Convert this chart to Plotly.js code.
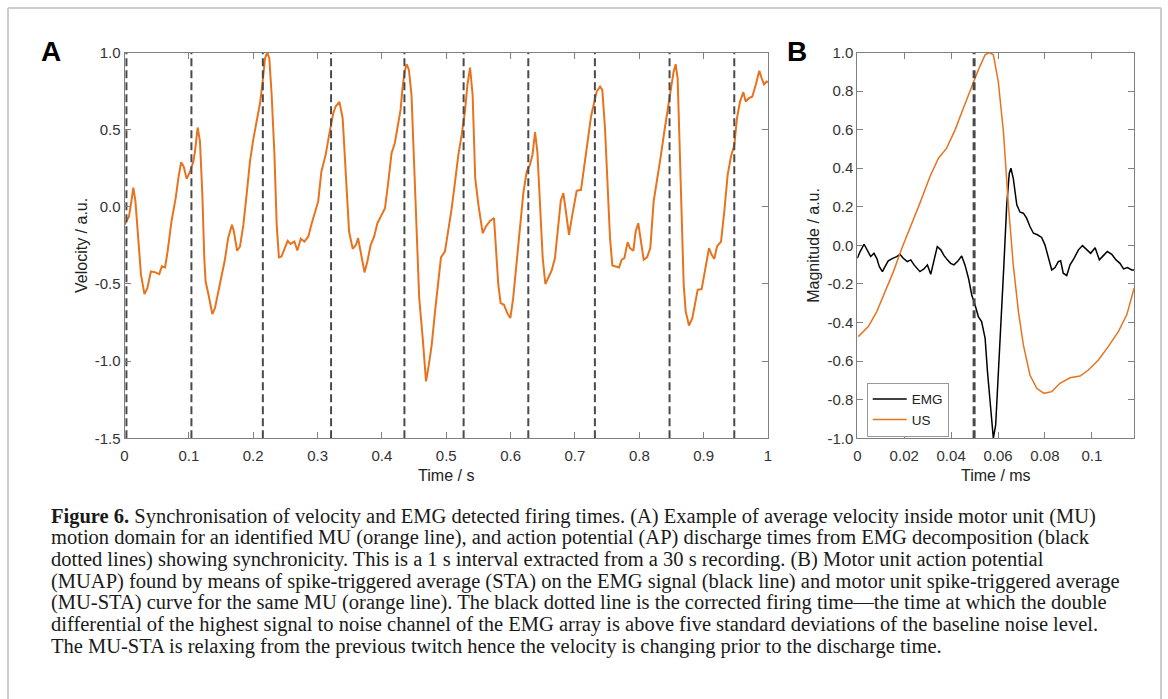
<!DOCTYPE html>
<html>
<head>
<meta charset="utf-8">
<script src="https://cdn.plot.ly/plotly-3.0.1.min.js"></script>
<style>html,body{margin:0;padding:0;background:#fff;}#chart{width:1168px;height:699px;}</style>
</head>
<body>
<div id="chart"></div>
<script>
// ---------- Panel A: velocity ----------
var timeA = [0.000,0.004,0.007,0.0105,0.0137,0.017,0.0215,0.0256,0.031,0.0355,0.041,0.047,0.054,0.058,0.063,0.067,0.073,0.0795,0.0837,0.088,0.092,0.0966,0.102,0.107,0.1095,0.1137,0.1173,0.121,0.124,0.126,0.130,0.1365,0.1406,0.146,0.151,0.156,0.161,0.167,0.170,0.175,0.1795,0.1847,0.190,0.195,0.200,0.2054,0.2106,0.2147,0.2184,0.222,0.225,0.2287,0.233,0.2365,0.240,0.244,0.249,0.2536,0.258,0.264,0.2686,0.274,0.2795,0.2857,0.291,0.296,0.301,0.306,0.3126,0.318,0.3245,0.328,0.334,0.339,0.344,0.349,0.3546,0.3598,0.363,0.367,0.373,0.3774,0.3826,0.388,0.393,0.3996,0.4048,0.410,0.415,0.420,0.4256,0.429,0.432,0.4354,0.4385,0.442,0.446,0.450,0.454,0.458,0.4634,0.4686,0.473,0.4774,0.4826,0.488,0.4918,0.498,0.5033,0.5085,0.5137,0.5188,0.524,0.529,0.5329,0.537,0.541,0.545,0.550,0.5566,0.5617,0.568,0.5742,0.578,0.5809,0.5845,0.5897,0.5949,0.5996,0.604,0.6094,0.6146,0.6198,0.625,0.630,0.634,0.638,0.6416,0.6457,0.6499,0.654,0.659,0.664,0.669,0.674,0.678,0.682,0.6856,0.6908,0.6959,0.7027,0.7094,0.7146,0.7198,0.725,0.7302,0.7338,0.739,0.7425,0.7467,0.7508,0.7545,0.7581,0.7633,0.7685,0.7726,0.7768,0.7819,0.7856,0.7908,0.7943,0.7984,0.8026,0.8068,0.8119,0.8171,0.8223,0.8285,0.8337,0.8389,0.8441,0.8493,0.8534,0.8565,0.8596,0.8627,0.8659,0.869,0.8721,0.8772,0.8824,0.8866,0.8907,0.8969,0.9021,0.9083,0.9125,0.9166,0.9207,0.927,0.9321,0.9373,0.9425,0.9477,0.9518,0.9565,0.9617,0.9653,0.9705,0.9757,0.9809,0.9865,0.9902,0.9938,0.9979,1.0];
var velA = [-0.117,-0.09,-0.063,0.03,0.125,0.035,-0.246,-0.44,-0.566,-0.527,-0.419,-0.423,-0.436,-0.386,-0.393,-0.289,-0.095,0.056,0.186,0.289,0.261,0.181,0.229,0.294,0.358,0.514,0.423,0.078,-0.332,-0.484,-0.559,-0.695,-0.656,-0.548,-0.462,-0.343,-0.203,-0.117,-0.160,-0.285,-0.257,-0.117,0.089,0.294,0.434,0.553,0.671,0.812,0.963,1.0,0.963,0.725,0.337,-0.117,-0.328,-0.322,-0.268,-0.220,-0.240,-0.225,-0.283,-0.207,-0.225,-0.192,-0.106,-0.030,0.035,0.229,0.337,0.466,0.607,0.650,0.680,0.574,0.186,-0.160,-0.272,-0.246,-0.203,-0.289,-0.425,-0.354,-0.246,-0.192,-0.106,-0.052,-0.009,0.164,0.348,0.412,0.531,0.628,0.769,0.877,0.924,0.887,0.725,0.294,-0.246,-0.592,-0.851,-1.131,-1.023,-0.894,-0.678,-0.462,-0.328,-0.289,-0.160,-0.009,0.164,0.337,0.466,0.617,0.790,0.902,0.725,0.186,0.013,-0.171,-0.127,-0.091,-0.073,-0.289,-0.505,-0.624,-0.635,-0.689,-0.721,-0.592,-0.354,-0.095,0.089,0.229,0.272,0.337,0.484,0.358,-0.030,-0.332,-0.50,-0.46,-0.41,-0.33,-0.12,0.04,0.089,-0.009,-0.181,-0.052,0.104,0.110,0.272,0.423,0.585,0.682,0.747,0.779,0.758,0.509,0.099,-0.203,-0.380,-0.386,-0.393,-0.343,-0.332,-0.229,-0.268,-0.285,-0.160,-0.106,-0.225,-0.343,-0.328,-0.268,0.035,0.186,0.337,0.488,0.617,0.769,0.877,0.924,0.833,0.358,-0.160,-0.505,-0.678,-0.769,-0.721,-0.613,-0.538,-0.533,-0.419,-0.268,-0.311,-0.337,-0.257,-0.225,-0.030,0.207,0.326,0.402,0.574,0.682,0.743,0.682,0.704,0.715,0.790,0.881,0.833,0.794,0.812,0.807];
var firingA = [0.003,0.104,0.215,0.321,0.435,0.527,0.6275,0.731,0.847,0.9476];
var xTicksA = [0,0.1,0.2,0.3,0.4,0.5,0.6,0.7,0.8,0.9,1];
var xTickTextA = ['0','0.1','0.2','0.3','0.4','0.5','0.6','0.7','0.8','0.9','1'];
var yTicksA = [-1.5,-1.0,-0.5,0,0.5,1.0];
var yTickTextA = ['-1.5','-1.0','-0.5','0.0','0.5','1.0'];

// ---------- Panel B: STA ----------
var timeUS = [0.0004,0.0047,0.0083,0.0118,0.0154,0.019,0.0225,0.0267,0.031,0.0346,0.0381,0.0417,0.0452,0.0488,0.0516,0.0545,0.0563,0.058,0.0601,0.0623,0.0644,0.0665,0.0687,0.0708,0.0736,0.0765,0.0796,0.0829,0.0864,0.0907,0.095,0.0985,0.1028,0.107,0.1113,0.1149,0.118];
var usB = [-0.473,-0.421,-0.343,-0.239,-0.136,-0.015,0.089,0.219,0.357,0.452,0.504,0.599,0.711,0.824,0.910,0.988,1.0,0.988,0.850,0.590,0.210,-0.101,-0.343,-0.516,-0.672,-0.741,-0.767,-0.758,-0.715,-0.686,-0.677,-0.646,-0.594,-0.525,-0.447,-0.360,-0.222];
var timeEMG = [0,0.0012,0.0029,0.0043,0.0057,0.0071,0.0083,0.0094,0.0107,0.0118,0.0132,0.0151,0.0168,0.0182,0.0196,0.0213,0.0228,0.0242,0.0253,0.0267,0.0284,0.0299,0.0313,0.0324,0.0341,0.0356,0.037,0.0384,0.0398,0.0412,0.0427,0.0445,0.0459,0.0474,0.0488,0.0502,0.0516,0.053,0.0545,0.0555,0.0566,0.058,0.059,0.0601,0.0615,0.0625,0.0637,0.0648,0.0655,0.0665,0.068,0.0694,0.0708,0.0722,0.0736,0.0751,0.0768,0.0786,0.08,0.0815,0.0829,0.0843,0.0857,0.0867,0.0878,0.0893,0.0907,0.0924,0.0943,0.096,0.0978,0.0995,0.1014,0.1032,0.1049,0.1066,0.1085,0.1103,0.112,0.1135,0.1152,0.117,0.118];
var emgB = [-0.067,-0.032,0.006,-0.023,-0.058,-0.041,-0.067,-0.110,-0.136,-0.110,-0.080,-0.067,-0.058,-0.046,-0.067,-0.084,-0.075,-0.101,-0.115,-0.136,-0.122,-0.101,-0.150,-0.093,-0.006,-0.023,-0.053,-0.075,-0.093,-0.101,-0.084,-0.055,-0.101,-0.170,-0.257,-0.309,-0.369,-0.395,-0.482,-0.654,-0.827,-1.0,-0.931,-0.689,-0.378,-0.101,0.210,0.374,0.400,0.348,0.210,0.172,0.167,0.141,0.098,0.063,0.055,0.041,0.003,-0.067,-0.127,-0.115,-0.084,-0.080,-0.144,-0.156,-0.101,-0.067,-0.023,-0.001,-0.023,-0.041,-0.012,-0.075,-0.053,-0.032,-0.046,-0.075,-0.093,-0.122,-0.115,-0.127,-0.127];
var firingB = [0.0498];
var xTicksB = [0,0.02,0.04,0.06,0.08,0.1];
var xTickTextB = ['0','0.02','0.04','0.06','0.08','0.1'];
var yTicksB = [-1.0,-0.8,-0.6,-0.4,-0.2,0,0.2,0.4,0.6,0.8,1.0];
var yTickTextB = ['-1.0','-0.8','-0.6','-0.4','-0.2','0.0','0.2','0.4','0.6','0.8','1.0'];

var captionLines = [
 '<b>Figure 6.</b> Synchronisation of velocity and EMG detected firing times. (A) Example of average velocity inside motor unit (MU)',
 'motion domain for an identified MU (orange line), and action potential (AP) discharge times from EMG decomposition (black',
 'dotted lines) showing synchronicity. This is a 1 s interval extracted from a 30 s recording. (B) Motor unit action potential',
 '(MUAP) found by means of spike-triggered average (STA) on the EMG signal (black line) and motor unit spike-triggered average',
 '(MU-STA) curve for the same MU (orange line). The black dotted line is the corrected firing time\u2014the time at which the double',
 'differential of the highest signal to noise channel of the EMG array is above five standard deviations of the baseline noise level.',
 'The MU-STA is relaxing from the previous twitch hence the velocity is changing prior to the discharge time.'
];

// ---------- build ----------
var W = 1168, H = 699;
function px(x){return x/W;}
function py(y){return 1 - y/H;}
var ORANGE = '#E8731E';

function vlines(xs, y0, y1){
  var X=[],Y=[];
  xs.forEach(function(v){X.push(v,v,null);Y.push(y0,y1,null);});
  return {x:X,y:Y};
}
var dA = vlines(firingA, -1.5, 1.0);
var dB = vlines(firingB, -1.0, 1.0);

var traces = [
  {x:timeA, y:velA, xaxis:'x', yaxis:'y', mode:'lines', line:{color:ORANGE,width:2}, showlegend:false, hoverinfo:'skip'},
  {x:dA.x, y:dA.y, xaxis:'x', yaxis:'y', mode:'lines', line:{color:'#4a4a4a',width:2,dash:'8px,4px'}, showlegend:false, connectgaps:false},
  {x:timeEMG, y:emgB, xaxis:'x2', yaxis:'y2', mode:'lines', name:'EMG', line:{color:'#000000',width:1.5}},
  {x:timeUS, y:usB, xaxis:'x2', yaxis:'y2', mode:'lines', name:'US', line:{color:ORANGE,width:1.5}},
  {x:dB.x, y:dB.y, xaxis:'x2', yaxis:'y2', mode:'lines', line:{color:'#4a4a4a',width:3,dash:'8px,4px'}, showlegend:false}
];

var tickFont = {family:'Liberation Sans, Arial, sans-serif', size:15, color:'#333333'};
var titleFont = {family:'Liberation Sans, Arial, sans-serif', size:16, color:'#222222'};
function axisBase(){
  return {showline:true, linecolor:'#808080', linewidth:1, mirror:'ticks', ticks:'inside', ticklen:6,
          tickcolor:'#808080', tickwidth:1, showgrid:false, zeroline:false, tickfont:tickFont, fixedrange:true};
}
var xa = Object.assign(axisBase(), {domain:[px(124.5),px(768)], range:[0,1], anchor:'y', tickmode:'array',
   tickvals:xTicksA, ticktext:xTickTextA, ticklabelstandoff:4, title:{text:'Time / s', font:titleFont, standoff:6}});
var ya = Object.assign(axisBase(), {domain:[py(438.3),py(52.5)], range:[-1.5,1.0], anchor:'x', tickmode:'array',
   tickvals:yTicksA, ticktext:yTickTextA, title:{text:'Velocity / a.u.', font:titleFont, standoff:3}});
var xb = Object.assign(axisBase(), {domain:[px(857.3),px(1134.3)], range:[0,0.1181], anchor:'y2', tickmode:'array',
   tickvals:xTicksB, ticktext:xTickTextB, ticklabelstandoff:4, title:{text:'Time / ms', font:titleFont, standoff:6}});
var yb = Object.assign(axisBase(), {domain:[py(438.3),py(52.5)], range:[-1,1], anchor:'x2', tickmode:'array',
   tickvals:yTicksB, ticktext:yTickTextB, title:{text:'Magnitude / a.u.', font:titleFont, standoff:3}});

var annotations = [
  {text:'<b>A</b>', xref:'paper', yref:'paper', x:px(51), y:py(52), xanchor:'center', yanchor:'middle', showarrow:false,
   font:{family:'Liberation Sans, Arial, sans-serif', size:28, color:'#000'}},
  {text:'<b>B</b>', xref:'paper', yref:'paper', x:px(797), y:py(52), xanchor:'center', yanchor:'middle', showarrow:false,
   font:{family:'Liberation Sans, Arial, sans-serif', size:28, color:'#000'}}
];
captionLines.forEach(function(t,i){
  annotations.push({text:t, xref:'paper', yref:'paper', x:px(49), y:py(516 + i*21.7), xanchor:'left', yanchor:'middle',
    showarrow:false, align:'left', font:{family:'Liberation Serif, Times New Roman, serif', size:20.5, color:'#1a1a1a'}});
});

var shapes = [
  {type:'line', xref:'paper', yref:'paper', x0:px(8), x1:px(8), y0:0, y1:py(8), line:{color:'#cccccc', width:2}},
  {type:'line', xref:'paper', yref:'paper', x0:px(1161), x1:px(1161), y0:0, y1:py(8), line:{color:'#cccccc', width:2}},
  {type:'line', xref:'paper', yref:'paper', x0:px(8), x1:px(1161), y0:py(8), y1:py(8), line:{color:'#cccccc', width:2}}
];

var layout = {
  width:W, height:H, margin:{l:0,r:0,t:0,b:0,pad:0},
  paper_bgcolor:'#ffffff', plot_bgcolor:'#ffffff',
  xaxis:xa, yaxis:ya, xaxis2:xb, yaxis2:yb,
  showlegend:true,
  legend:{x:px(866.7), y:py(382.7), xanchor:'left', yanchor:'top', bgcolor:'#ffffff', bordercolor:'#999999', borderwidth:1,
          font:{family:'Liberation Sans, Arial, sans-serif', size:13.5, color:'#222'}, itemwidth:34, tracegroupgap:0},
  annotations:annotations, shapes:shapes
};
Plotly.newPlot('chart', traces, layout, {displayModeBar:false, staticPlot:true});
</script>
</body>
</html>
